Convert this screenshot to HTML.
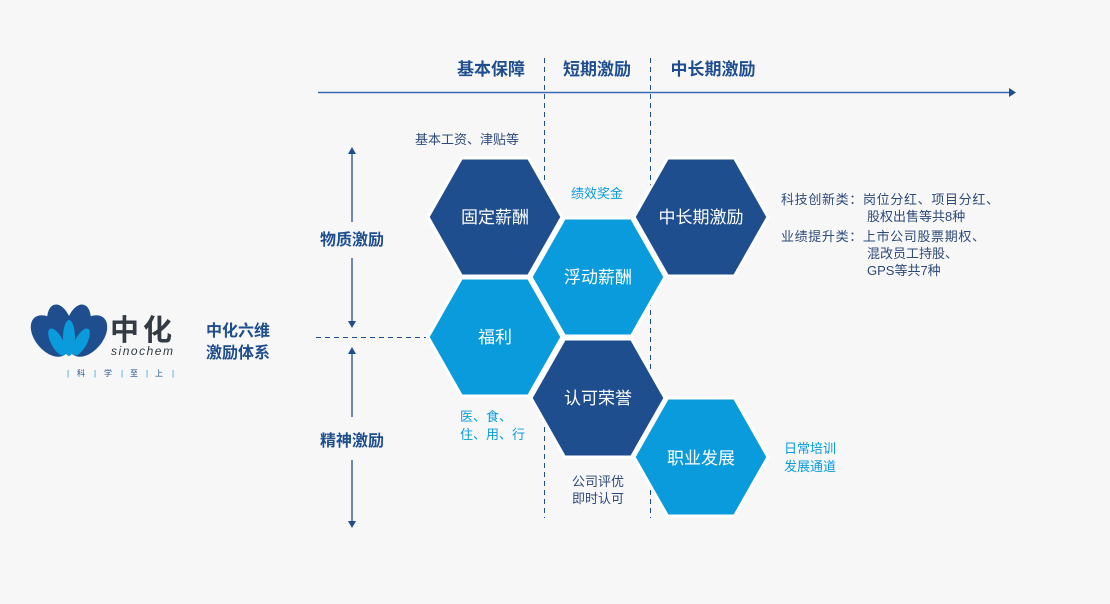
<!DOCTYPE html>
<html><head><meta charset="utf-8">
<style>
html,body{margin:0;padding:0;background:#f7f7f7;}
svg{display:block;}
text{font-family:"Liberation Sans","Noto Sans CJK SC",sans-serif;}
</style></head>
<body>
<svg width="1110" height="604" viewBox="0 0 1110 604" xmlns="http://www.w3.org/2000/svg">
<rect width="1110" height="604" fill="#f7f7f7"/>
<g font-size="17" font-weight="bold" fill="#1f4e8f" text-anchor="middle">
<text x="491" y="75">基本保障</text>
<text x="597" y="75">短期激励</text>
<text x="713" y="75">中长期激励</text>
</g>
<line x1="318" y1="92.5" x2="1010" y2="92.5" stroke="#3a6ab0" stroke-width="1.5"/>
<polygon points="1009,88 1016,92.5 1009,97" fill="#1f4e8f"/>
<line x1="544.5" y1="58" x2="544.5" y2="518" stroke="#1f4e8f" stroke-width="1" stroke-dasharray="5,4"/>
<line x1="650.5" y1="58" x2="650.5" y2="518" stroke="#1f4e8f" stroke-width="1" stroke-dasharray="5,4"/>
<line x1="316" y1="337.5" x2="426" y2="337.5" stroke="#1f4e8f" stroke-width="1" stroke-dasharray="5,4"/>
<g stroke="#1f4e8f" stroke-width="1.3">
<line x1="352" y1="152" x2="352" y2="222"/>
<line x1="352" y1="258" x2="352" y2="324"/>
<line x1="352" y1="352" x2="352" y2="417"/>
<line x1="352" y1="460" x2="352" y2="524"/>
</g>
<g fill="#1f4e8f">
<polygon points="348,154 352,147 356,154"/>
<polygon points="348,321 352,328 356,321"/>
<polygon points="348,354 352,347 356,354"/>
<polygon points="348,521 352,528 356,521"/>
</g>
<g font-size="16" font-weight="bold" fill="#1f4e8f" text-anchor="middle">
<text x="352" y="245">物质激励</text>
<text x="352" y="446">精神激励</text>
</g>
<g stroke="#fff" stroke-width="3">
<polygon points="428,217 461.5,158 528.5,158 562,217 528.5,276 461.5,276" fill="#1f4e8f"/>
<polygon points="634,217 667.5,158 734.5,158 768,217 734.5,276 667.5,276" fill="#1f4e8f"/>
<polygon points="428,337 461.5,278 528.5,278 562,337 528.5,396 461.5,396" fill="#0a9bdc"/>
<polygon points="531,277 564.5,218 631.5,218 665,277 631.5,336 564.5,336" fill="#0a9bdc"/>
<polygon points="531,398 564.5,339 631.5,339 665,398 631.5,457 564.5,457" fill="#1f4e8f"/>
<polygon points="634,457 667.5,398 734.5,398 768,457 734.5,516 667.5,516" fill="#0a9bdc"/>
</g>
<g font-size="17" fill="#fff" text-anchor="middle">
<text x="495" y="223">固定薪酬</text>
<text x="701" y="223">中长期激励</text>
<text x="598" y="283">浮动薪酬</text>
<text x="495" y="343">福利</text>
<text x="598" y="404">认可荣誉</text>
<text x="701" y="464">职业发展</text>
</g>
<g font-size="13" fill="#2d4a7a">
<text x="415" y="144">基本工资、津贴等</text>
<text x="572" y="486">公司评优</text>
<text x="572" y="503">即时认可</text>
<text x="781" y="204" textLength="218">科技创新类：岗位分红、项目分红、</text>
<text x="867" y="221">股权出售等共8种</text>
<text x="781" y="241" textLength="204">业绩提升类：上市公司股票期权、</text>
<text x="867" y="258">混改员工持股、</text>
<text x="867" y="275">GPS等共7种</text>
</g>
<g font-size="13" fill="#0a9bdc">
<text x="571" y="198">绩效奖金</text>
<text x="460" y="421">医、食、</text>
<text x="460" y="439">住、用、行</text>
<text x="784" y="453">日常培训</text>
<text x="784" y="471">发展通道</text>
</g>
<!-- logo -->
<g>
<ellipse cx="50" cy="336" rx="15" ry="24" transform="rotate(-40 50 336)" fill="#1f4e8f"/>
<ellipse cx="88" cy="336" rx="15" ry="24" transform="rotate(40 88 336)" fill="#1f4e8f"/>
<ellipse cx="60" cy="326" rx="12" ry="22" transform="rotate(-15 60 326)" fill="#1f4e8f"/>
<ellipse cx="78" cy="326" rx="12" ry="22" transform="rotate(15 78 326)" fill="#1f4e8f"/>
<ellipse cx="57" cy="342" rx="6" ry="15" transform="rotate(-28 57 342)" fill="#0a9bdc"/>
<ellipse cx="81" cy="342" rx="6" ry="15" transform="rotate(28 81 342)" fill="#0a9bdc"/>
<ellipse cx="69" cy="338" rx="6" ry="18" fill="#0a9bdc"/>
</g>
<text x="110" y="340" font-size="29" font-weight="bold" fill="#333a44" textLength="62">中化</text>
<text x="111" y="355" font-size="12" font-style="italic" fill="#333a44" textLength="62">sinochem</text>
<g font-size="8" fill="#1f4e8f">
<text x="67" y="376" fill="#0a9bdc">|</text><text x="77" y="376">科</text><text x="94" y="376" fill="#0a9bdc">|</text>
<text x="104" y="376">学</text><text x="121" y="376" fill="#0a9bdc">|</text><text x="130" y="376">至</text>
<text x="146" y="376" fill="#0a9bdc">|</text><text x="155" y="376">上</text><text x="172" y="376" fill="#0a9bdc">|</text>
</g>
<g font-size="16" font-weight="bold" fill="#1f4e8f">
<text x="206" y="336">中化六维</text>
<text x="206" y="358">激励体系</text>
</g>
</svg>
</body></html>
